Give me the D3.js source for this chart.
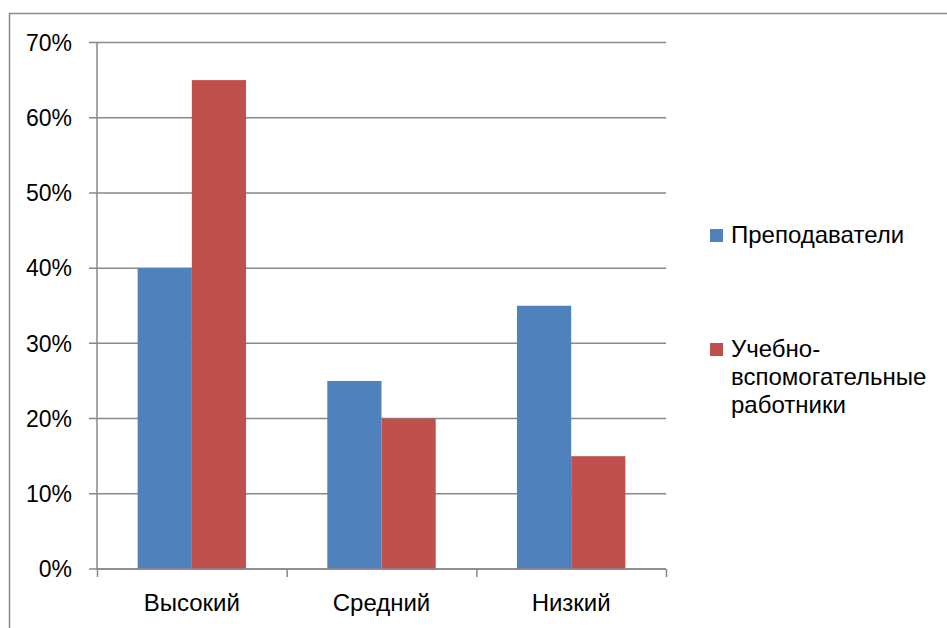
<!DOCTYPE html>
<html>
<head>
<meta charset="utf-8">
<script src="https://cdn.jsdelivr.net/npm/d3@7"></script>
<style>
  html, body { margin: 0; padding: 0; background: #fff; overflow: hidden; }
  svg { display: block; font-family: "Liberation Sans", Arial, sans-serif; }
</style>
</head>
<body>
<svg id="chart" width="947" height="628"></svg>
<script>
// Levels and the share of each staff group at that level
const categories = ["Высокий", "Средний", "Низкий"];
const seriesNames = ["Преподаватели", "Учебно-вспомогательные работники"];
const teachers = [0.40, 0.25, 0.35];
const supportStaff = [0.65, 0.20, 0.15];
const yTicks = [0, 0.1, 0.2, 0.3, 0.4, 0.5, 0.6, 0.7];
const legendLines = [["Преподаватели"], ["Учебно-", "вспомогательные", "работники"]];

const colors = ["#4f81bd", "#c0504d"];
const gridColor = "#888888";
const seriesValues = [teachers, supportStaff];
const fontSize = 24;
const tickFontSize = 23;

const svg = d3.select("#chart");

// Chart frame (runs past the right and bottom edges)
svg.append("rect")
  .attr("x", 9.5).attr("y", 13.5)
  .attr("width", 960).attr("height", 640)
  .attr("fill", "none")
  .attr("stroke", "#8a8a8a")
  .attr("stroke-width", 1.5);

const plot = { left: 97, right: 666, top: 42.5, bottom: 569 };

const y = d3.scaleLinear().domain([0, 0.7]).range([plot.bottom, plot.top]);
const x0 = d3.scaleBand().domain(categories).range([plot.left, plot.right]).padding(0);
const x1 = d3.scaleBand().domain(d3.range(seriesNames.length))
  .range([0, x0.bandwidth()]).paddingInner(0).paddingOuter(0.75);

// Horizontal gridlines with tick stubs to the left
svg.append("g")
  .selectAll("line")
  .data(yTicks)
  .join("line")
  .attr("x1", plot.left - 8).attr("x2", plot.right)
  .attr("y1", d => y(d)).attr("y2", d => y(d))
  .attr("stroke", gridColor).attr("stroke-width", 1.5);

// Y tick labels
svg.append("g")
  .selectAll("text")
  .data(yTicks)
  .join("text")
  .attr("x", 72)
  .attr("y", d => y(d))
  .attr("dy", "0.36em")
  .attr("text-anchor", "end")
  .attr("font-size", tickFontSize)
  .attr("fill", "#000")
  .text(d => d3.format(".0%")(d));

// Bars
const groups = svg.append("g")
  .selectAll("g")
  .data(categories)
  .join("g")
  .attr("transform", d => `translate(${x0(d)},0)`);

groups.selectAll("rect")
  .data((c, i) => seriesValues.map((vals, s) => ({ s, v: vals[i] })))
  .join("rect")
  .attr("x", d => x1(d.s))
  .attr("width", x1.bandwidth())
  .attr("y", d => y(d.v))
  .attr("height", d => y(0) - y(d.v))
  .attr("fill", d => colors[d.s]);

// Vertical axis line
svg.append("line")
  .attr("x1", plot.left).attr("x2", plot.left)
  .attr("y1", plot.top).attr("y2", plot.bottom)
  .attr("stroke", gridColor).attr("stroke-width", 1.5);

// Horizontal axis with category boundary ticks
const xAxis = d3.axisBottom(d3.scaleLinear().domain([0, categories.length]).range([plot.left, plot.right]))
  .tickValues(d3.range(categories.length + 1))
  .tickSize(8)
  .tickFormat("");
const xg = svg.append("g")
  .attr("transform", `translate(0,${plot.bottom})`)
  .call(xAxis);
xg.selectAll("path, line").attr("stroke", gridColor).attr("stroke-width", 1.5);
xg.select(".domain").attr("d", `M${plot.left},0H${plot.right}`);

// Category labels
svg.append("g")
  .selectAll("text")
  .data(categories)
  .join("text")
  .attr("x", d => x0(d) + x0.bandwidth() / 2)
  .attr("y", 611)
  .attr("text-anchor", "middle")
  .attr("font-size", fontSize)
  .attr("fill", "#000")
  .text(d => d);

// Legend: one swatch per series, label lines stacked beside it
const legendTop = [229, 343];
const legend = svg.append("g");
legendLines.forEach((lines, i) => {
  legend.append("rect")
    .attr("x", 710).attr("y", legendTop[i])
    .attr("width", 13).attr("height", 13)
    .attr("fill", colors[i]);
  lines.forEach((line, j) => {
    legend.append("text")
      .attr("x", 731)
      .attr("y", legendTop[i] + 14 + j * 28)
      .attr("font-size", fontSize)
      .attr("fill", "#000")
      .text(line);
  });
});
</script>
</body>
</html>
